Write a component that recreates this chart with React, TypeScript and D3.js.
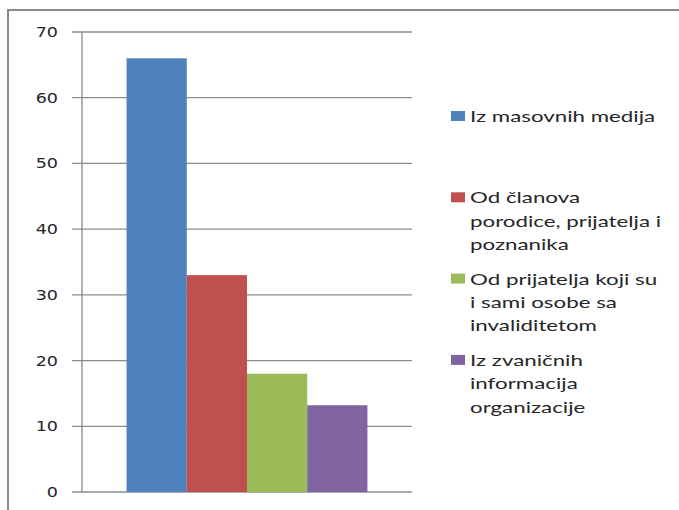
import React from "react";
import * as d3 from "d3";

const categories = ["Izvor"];
const seriesNames = [
  "Iz masovnih medija",
  "Od članova porodice, prijatelja i poznanika",
  "Od prijatelja koji su i sami osobe sa invaliditetom",
  "Iz zvaničnih informacija organizacije",
];
const legendLines = [
  ["Iz masovnih medija"],
  ["Od članova", "porodice, prijatelja i", "poznanika"],
  ["Od prijatelja koji su", "i sami osobe sa", "invaliditetom"],
  ["Iz zvaničnih", "informacija", "organizacije"],
];
const seriesValues = [66, 33, 18, 13.2];
const seriesColors = ["#4F81BD", "#C0504D", "#9BBB59", "#8064A2"];
const yTicks = [0, 10, 20, 30, 40, 50, 60, 70];

const W = 679;
const H = 510;
const plot = { left: 82, right: 412, top: 32, bottom: 492 };
const SX = 1.3;
const SXL = 1.44;

export default function App() {
  const y = d3.scaleLinear().domain([0, 70]).range([plot.bottom, plot.top]);
  const xCat = d3
    .scaleBand<string>()
    .domain(categories)
    .range([plot.left, plot.right])
    .paddingInner(0)
    .paddingOuter(0.185);
  const xSeries = d3
    .scaleBand<string>()
    .domain(seriesNames)
    .range([0, xCat.bandwidth()]);

  const legendX = 451;
  const legendY0 = 122;
  const legendStep = 81.3;
  const lineH = 23.3;

  return (
    <svg
      width={W}
      height={H}
      style={{ position: "absolute", left: 0, top: 0, background: "#fff" }}
    >
      <rect x={0} y={0} width={W} height={H} fill="#fff" />
      <rect x={8} y={10} width={W + 20} height={H + 20} fill="none" stroke="#8a8a8a" strokeWidth={2} />
      {yTicks.map((t) => (
        <g key={t}>
          <line
            x1={72}
            x2={plot.right}
            y1={y(t)}
            y2={y(t)}
            stroke="#8c8c8c"
            strokeWidth={1.3}
          />
          <text
            transform={`translate(58,${y(t) + 5}) scale(${SX},1)`}
            textAnchor="end"
            fontFamily="DejaVu Sans, Verdana, sans-serif"
            fontSize={13.5}
            fill="#262626"
          >
            {t}
          </text>
        </g>
      ))}
      <line x1={plot.left} x2={plot.left} y1={plot.top} y2={plot.bottom} stroke="#8c8c8c" strokeWidth={1.3} />
      {categories.map((c) =>
        seriesNames.map((s, i) => (
          <rect
            key={s}
            x={(xCat(c) ?? 0) + (xSeries(s) ?? 0)}
            y={y(seriesValues[i])}
            width={xSeries.bandwidth()}
            height={y(0) - y(seriesValues[i])}
            fill={seriesColors[i]}
          />
        ))
      )}
      {legendLines.map((lines, i) => {
        const by = legendY0 + i * legendStep;
        return (
          <g key={i}>
            <rect x={legendX} y={by - 11} width={14} height={10} fill={seriesColors[i]} />
            {lines.map((ln, j) => (
              <text
                key={j}
                transform={`translate(${legendX + 19},${by + j * lineH}) scale(${SXL},1)`}
                fontFamily="Lato, 'Open Sans', sans-serif"
                fontSize={15.5}
                fill="#262626"
              >
                {ln}
              </text>
            ))}
          </g>
        );
      })}
    </svg>
  );
}
